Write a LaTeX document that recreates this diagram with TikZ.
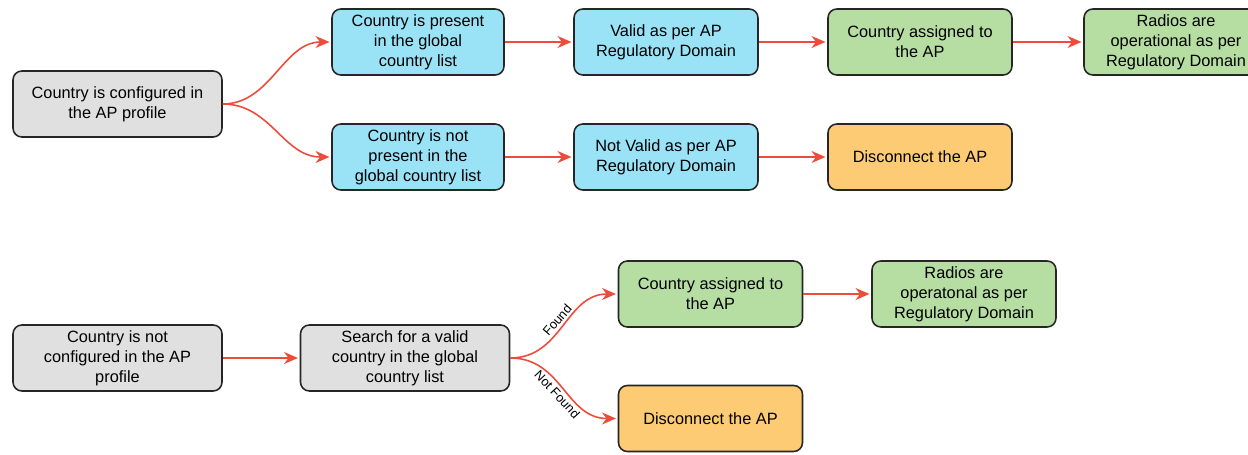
\documentclass[tikz,border=0pt]{standalone}
\usepackage{fontspec}
\setmainfont{Liberation Sans}
\usepackage{tikz}
\usetikzlibrary{arrows.meta}
\usepackage{xcolor}
\definecolor{boxgray}{HTML}{E0E0E0}
\definecolor{boxblue}{HTML}{9AE3F7}
\definecolor{boxgreen}{HTML}{B6DEA2}
\definecolor{boxorange}{HTML}{FDCB74}
\definecolor{flowred}{HTML}{EE4B3B}
\tikzset{
  stepbox/.style={draw=black!85, line width=0.9pt, rounded corners=5pt, align=center,
    minimum height=1.32cm, minimum width=3.68cm, inner sep=2pt,
    font=\fontsize{9.3}{11.4}\selectfont},
  graybox/.style={stepbox, fill=boxgray, minimum width=4.18cm},
  bluebox/.style={stepbox, fill=boxblue},
  greenbox/.style={stepbox, fill=boxgreen},
  orangebox/.style={stepbox, fill=boxorange},
  flow/.style={draw=flowred, line width=0.9pt, -{Stealth[length=2.8mm,width=2.4mm]}, shorten >=1pt},
  branchlabel/.style={text=black, font=\fontsize{7.3}{8}\selectfont, inner sep=2pt}
}

\begin{document}
\begin{tikzpicture}[x=0.02cm,y=-0.02cm]
\useasboundingbox (0,0) rectangle (1248,455);
\node[graybox] (conf) at (117.5,104) {Country is configured in\\the AP profile};
\node[bluebox, minimum width=3.44cm] (present) at (418,42) {Country is present\\in the global\\country list};
\node[bluebox, minimum width=3.44cm] (absent) at (418,157) {Country is not\\present in the\\global country list};
\node[bluebox] (valid) at (666,42) {Valid as per AP\\Regulatory Domain};
\node[bluebox] (invalid) at (666,157) {Not Valid as per AP\\Regulatory Domain};
\node[greenbox] (assigned) at (920,42) {Country assigned to\\the AP};
\node[orangebox] (disc) at (920,157) {Disconnect the AP};
\node[greenbox] (radios) at (1176,42) {Radios are\\operational as per\\Regulatory Domain};
\node[graybox] (noconf) at (117.5,358) {Country is not\\configured in the AP\\profile};
\node[graybox] (search) at (405,358) {Search for a valid\\country in the global\\country list};
\node[greenbox] (found) at (710.5,294) {Country assigned to\\the AP};
\node[greenbox] (foundradios) at (964,294) {Radios are\\operatonal as per\\Regulatory Domain};
\node[orangebox] (notfound) at (710.5,418.5) {Disconnect the AP};

\draw[flow] (conf.east) .. controls +(48,0) and +(-48,0) .. (present.west);
\draw[flow] (conf.east) .. controls +(48,0) and +(-48,0) .. (absent.west);
\draw[flow] (present) -- (valid);
\draw[flow] (valid) -- (assigned);
\draw[flow] (assigned) -- (radios);
\draw[flow] (absent) -- (invalid);
\draw[flow] (invalid) -- (disc);
\draw[flow] (noconf) -- (search);
\draw[flow] (search.east) .. controls +(52,0) and +(-52,0) .. node[branchlabel, sloped, above] {Found} (found.west);
\draw[flow] (search.east) .. controls +(52,0) and +(-52,0) .. node[branchlabel, sloped, below] {Not Found} (notfound.west);
\draw[flow] (found) -- (foundradios);
\end{tikzpicture}
\end{document}
